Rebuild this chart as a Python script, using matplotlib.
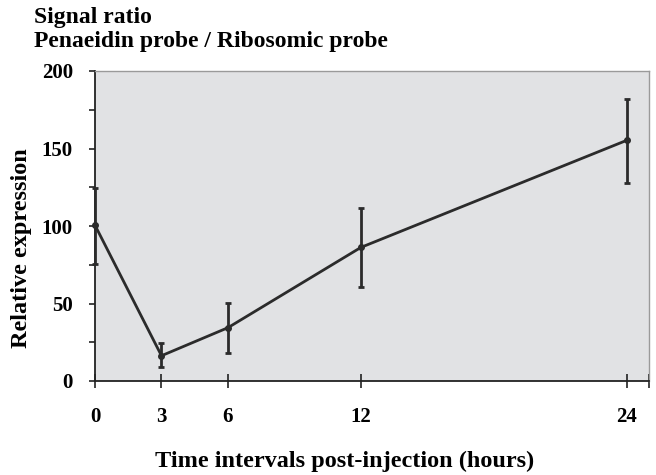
import numpy as np
import matplotlib
matplotlib.use('Agg')
import matplotlib.pyplot as plt
from matplotlib.ticker import FixedLocator

# time after injection (hours) and relative expression with error bar limits
hours = [0, 3, 6, 12, 24]
expression = [100.5, 16.3, 34.4, 86.2, 155.3]
err_low = [75.3, 8.8, 17.9, 60.4, 128.0]
err_high = [124.7, 24.3, 50.1, 111.4, 181.7]
xtick_pos = [0, 3, 6, 12, 24]
xtick_lab = ['0', '3', '6', '12', '24']

plt.rcParams['font.family'] = ['Liberation Serif', 'DejaVu Serif']
plt.rcParams['font.weight'] = 'bold'

fig = plt.figure(figsize=(6.56, 4.75), dpi=100)
ax = fig.add_axes([95/656, 94/475, 554/656, 310/475])
ax.set_facecolor('#e1e2e4')

y = np.array(expression)
yerr = [y - np.array(err_low), np.array(err_high) - y]
ax.errorbar(hours, expression, yerr=yerr, color='#2b2b2b', lw=2.0,
            elinewidth=2.0, capsize=2.5, capthick=2.0,
            marker='o', markersize=4, clip_on=False, zorder=3)

ax.set_xlim(0, 25)
ax.set_ylim(0, 200)

# spines: dark left/bottom, light grey frame top/right
for s in ['left', 'bottom']:
    ax.spines[s].set_color('#222222')
    ax.spines[s].set_linewidth(1.3)
for s in ['top', 'right']:
    ax.spines[s].set_color('#9a9a9a')
    ax.spines[s].set_linewidth(1.0)

ax.set_xticks(xtick_pos)
ax.set_xticklabels(xtick_lab)
ax.xaxis.set_minor_locator(FixedLocator([25]))
ax.tick_params(axis='x', which='both', direction='inout', length=10,
               width=1.2, color='#222222', pad=14, labelsize=15)

ax.set_yticks([0, 50, 100, 150, 200])
ax.yaxis.set_minor_locator(FixedLocator([25, 75, 125, 175]))
ax.tick_params(axis='y', which='both', direction='out', length=4,
               width=1.2, color='#222222', pad=12, labelsize=15)

ax.set_xlabel('Time intervals post-injection (hours)', fontsize=17.5,
              fontweight='bold', va='center')
ax.xaxis.set_label_coords(0.451, -0.258)
ax.set_ylabel('Relative expression', fontsize=17.5, fontweight='bold',
              va='center')
ax.yaxis.set_label_coords(-0.132, 0.429)

fig.text(34/656, 1 - 17/475, 'Signal ratio', fontsize=17,
         fontweight='bold', ha='left', va='center')
fig.text(34/656, 1 - 42/475, 'Penaeidin probe / Ribosomic probe',
         fontsize=17, fontweight='bold', ha='left', va='center')

fig.savefig('out.png', dpi=100)
